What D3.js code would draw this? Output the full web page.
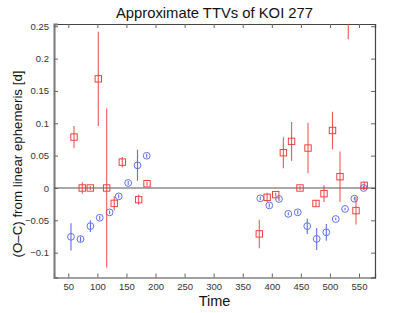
<!DOCTYPE html>
<html>
<head>
<meta charset="utf-8">
<script src="https://cdn.jsdelivr.net/npm/d3@7"></script>
<style>
  body { margin: 0; background: #fff; }
  svg text { font-family: "Liberation Sans", Arial, sans-serif; }
</style>
</head>
<body>
<div id="chart"></div>
<script>
// blue circles: time, O-C, error
const blueT = [54.6, 71, 88, 104, 121, 136.7, 153, 169, 184.8, 380.2, 395.7, 412.4, 428.4, 444.6, 461, 477.2, 493.8, 510, 526, 542, 558];
const blueV = [-0.0755, -0.079, -0.059, -0.046, -0.0377, -0.013, 0.0077, 0.035, 0.0498, -0.016, -0.027, -0.017, -0.040, -0.0376, -0.059, -0.0787, -0.0685, -0.048, -0.0324, -0.0165, 0.0];
const blueE = [0.021, 0.004, 0.009, 0.003, 0.003, 0.003, 0.003, 0.024, 0.003, 0.003, 0.003, 0.003, 0.002, 0.003, 0.012, 0.017, 0.013, 0.002, 0.002, 0.003, 0.003];

// red squares
const redT = [59.8, 74, 87.8, 101.6, 116, 129, 142.9, 171, 185.4, 378.5, 392, 406.7, 419.9, 434, 448.5, 462.3, 476, 489.8, 504.4, 517.3, 531.6, 544.8, 559];
const redV = [0.0787, 0.0, 0.0, 0.1687, 0.0, -0.0238, 0.040, -0.018, 0.0066, -0.071, -0.0145, -0.0103, 0.0545, 0.072, 0.0, 0.0617, -0.024, -0.0088, 0.0889, 0.0174, 0.27, -0.035, 0.004];
const redE = [0.017, 0.009, 0.003, 0.073, 0.123, 0.011, 0.008, 0.008, 0.003, 0.022, 0.007, 0.003, 0.024, 0.03, 0.003, 0.039, 0.005, 0.013, 0.029, 0.039, 0.04, 0.0216, 0.006];

const xTicks = [50, 100, 150, 200, 250, 300, 350, 400, 450, 500, 550];
const yTicks = [-0.1, -0.05, 0, 0.05, 0.1, 0.15, 0.2, 0.25];

const width = 415, height = 313;
const margin = {top: 24, right: 40, bottom: 35.5, left: 54};

const svg = d3.select("#chart").append("svg")
    .attr("width", width)
    .attr("height", height);

const x = d3.scaleLinear().domain([25.4, 577.5]).range([margin.left, width - margin.right]);
const y = d3.scaleLinear().domain([-0.1384, 0.2535]).range([height - margin.bottom, margin.top]);

svg.append("clipPath").attr("id", "clip")
  .append("rect")
    .attr("x", margin.left).attr("y", margin.top)
    .attr("width", x.range()[1] - margin.left)
    .attr("height", y.range()[0] - margin.top);

const fmt = d => d === 0 ? "0" : d3.format("")(d).replace("-", "\u2212");

// axes
const axisColor = "#444";
const gx = svg.append("g")
    .attr("transform", `translate(0,${y.range()[0]})`)
    .call(d3.axisBottom(x).tickValues(xTicks).tickSize(-4).tickPadding(6).tickFormat(d3.format("d")));
const gxTop = svg.append("g")
    .attr("transform", `translate(0,${margin.top})`)
    .call(d3.axisTop(x).tickValues(xTicks).tickSize(-4).tickFormat(""));
const gy = svg.append("g")
    .attr("transform", `translate(${margin.left},0)`)
    .call(d3.axisLeft(y).tickValues(yTicks).tickSize(-4).tickPadding(5).tickFormat(fmt));
const gyR = svg.append("g")
    .attr("transform", `translate(${x.range()[1]},0)`)
    .call(d3.axisRight(y).tickValues(yTicks).tickSize(-4).tickFormat(""));

[gx, gxTop, gy, gyR].forEach(g => {
  g.select(".domain").attr("stroke", axisColor).attr("stroke-width", 1.2);
  g.selectAll(".tick line").attr("stroke", "#666");
  g.selectAll("text").attr("fill", "#333").style("font-size", "9.5px");
});
gy.select(".domain").attr("stroke", "#777").attr("stroke-width", 2);

// zero line
svg.append("line")
    .attr("x1", margin.left).attr("x2", x.range()[1])
    .attr("y1", y(0)).attr("y2", y(0))
    .attr("stroke", "#555").attr("stroke-width", 1.2);

const plot = svg.append("g").attr("clip-path", "url(#clip)");

const blue = blueT.map((t, i) => ({t, v: blueV[i], e: blueE[i]}));
const red = redT.map((t, i) => ({t, v: redV[i], e: redE[i]}));

// blue error bars and circles
plot.selectAll(".be").data(blue).join("line")
    .attr("x1", d => x(d.t)).attr("x2", d => x(d.t))
    .attr("y1", d => y(d.v - d.e)).attr("y2", d => y(d.v + d.e))
    .attr("stroke", "#4455e8").attr("stroke-width", 1.1).attr("stroke-opacity", 0.85);
plot.selectAll(".bc").data(blue).join("circle")
    .attr("cx", d => x(d.t)).attr("cy", d => y(d.v))
    .attr("r", 3.4)
    .attr("fill", "none")
    .attr("stroke", "#6272f2").attr("stroke-width", 1);

// red error bars and squares
plot.selectAll(".re").data(red).join("line")
    .attr("x1", d => x(d.t)).attr("x2", d => x(d.t))
    .attr("y1", d => y(d.v - d.e)).attr("y2", d => y(d.v + d.e))
    .attr("stroke", "#f03a3a").attr("stroke-width", 1.1).attr("stroke-opacity", 0.85);
plot.selectAll(".rs").data(red).join("rect")
    .attr("x", d => x(d.t) - 3.2).attr("y", d => y(d.v) - 3.2)
    .attr("width", 6.4).attr("height", 6.4)
    .attr("fill", "none")
    .attr("stroke", "#f04040").attr("stroke-width", 1);

// titles
const cx = (margin.left + x.range()[1]) / 2;
svg.append("text")
    .attr("x", cx).attr("y", 18)
    .attr("text-anchor", "middle")
    .style("font-size", "14.8px").attr("fill", "#111")
    .text("Approximate TTVs of KOI 277");
svg.append("text")
    .attr("x", cx).attr("y", 306)
    .attr("text-anchor", "middle")
    .style("font-size", "14.5px").attr("fill", "#111")
    .text("Time");
svg.append("text")
    .attr("transform", `translate(22,164) rotate(-90)`)
    .attr("text-anchor", "middle")
    .style("font-size", "13.3px").attr("fill", "#111")
    .text("(O\u2013C) from linear ephemeris [d]");
</script>
</body>
</html>
